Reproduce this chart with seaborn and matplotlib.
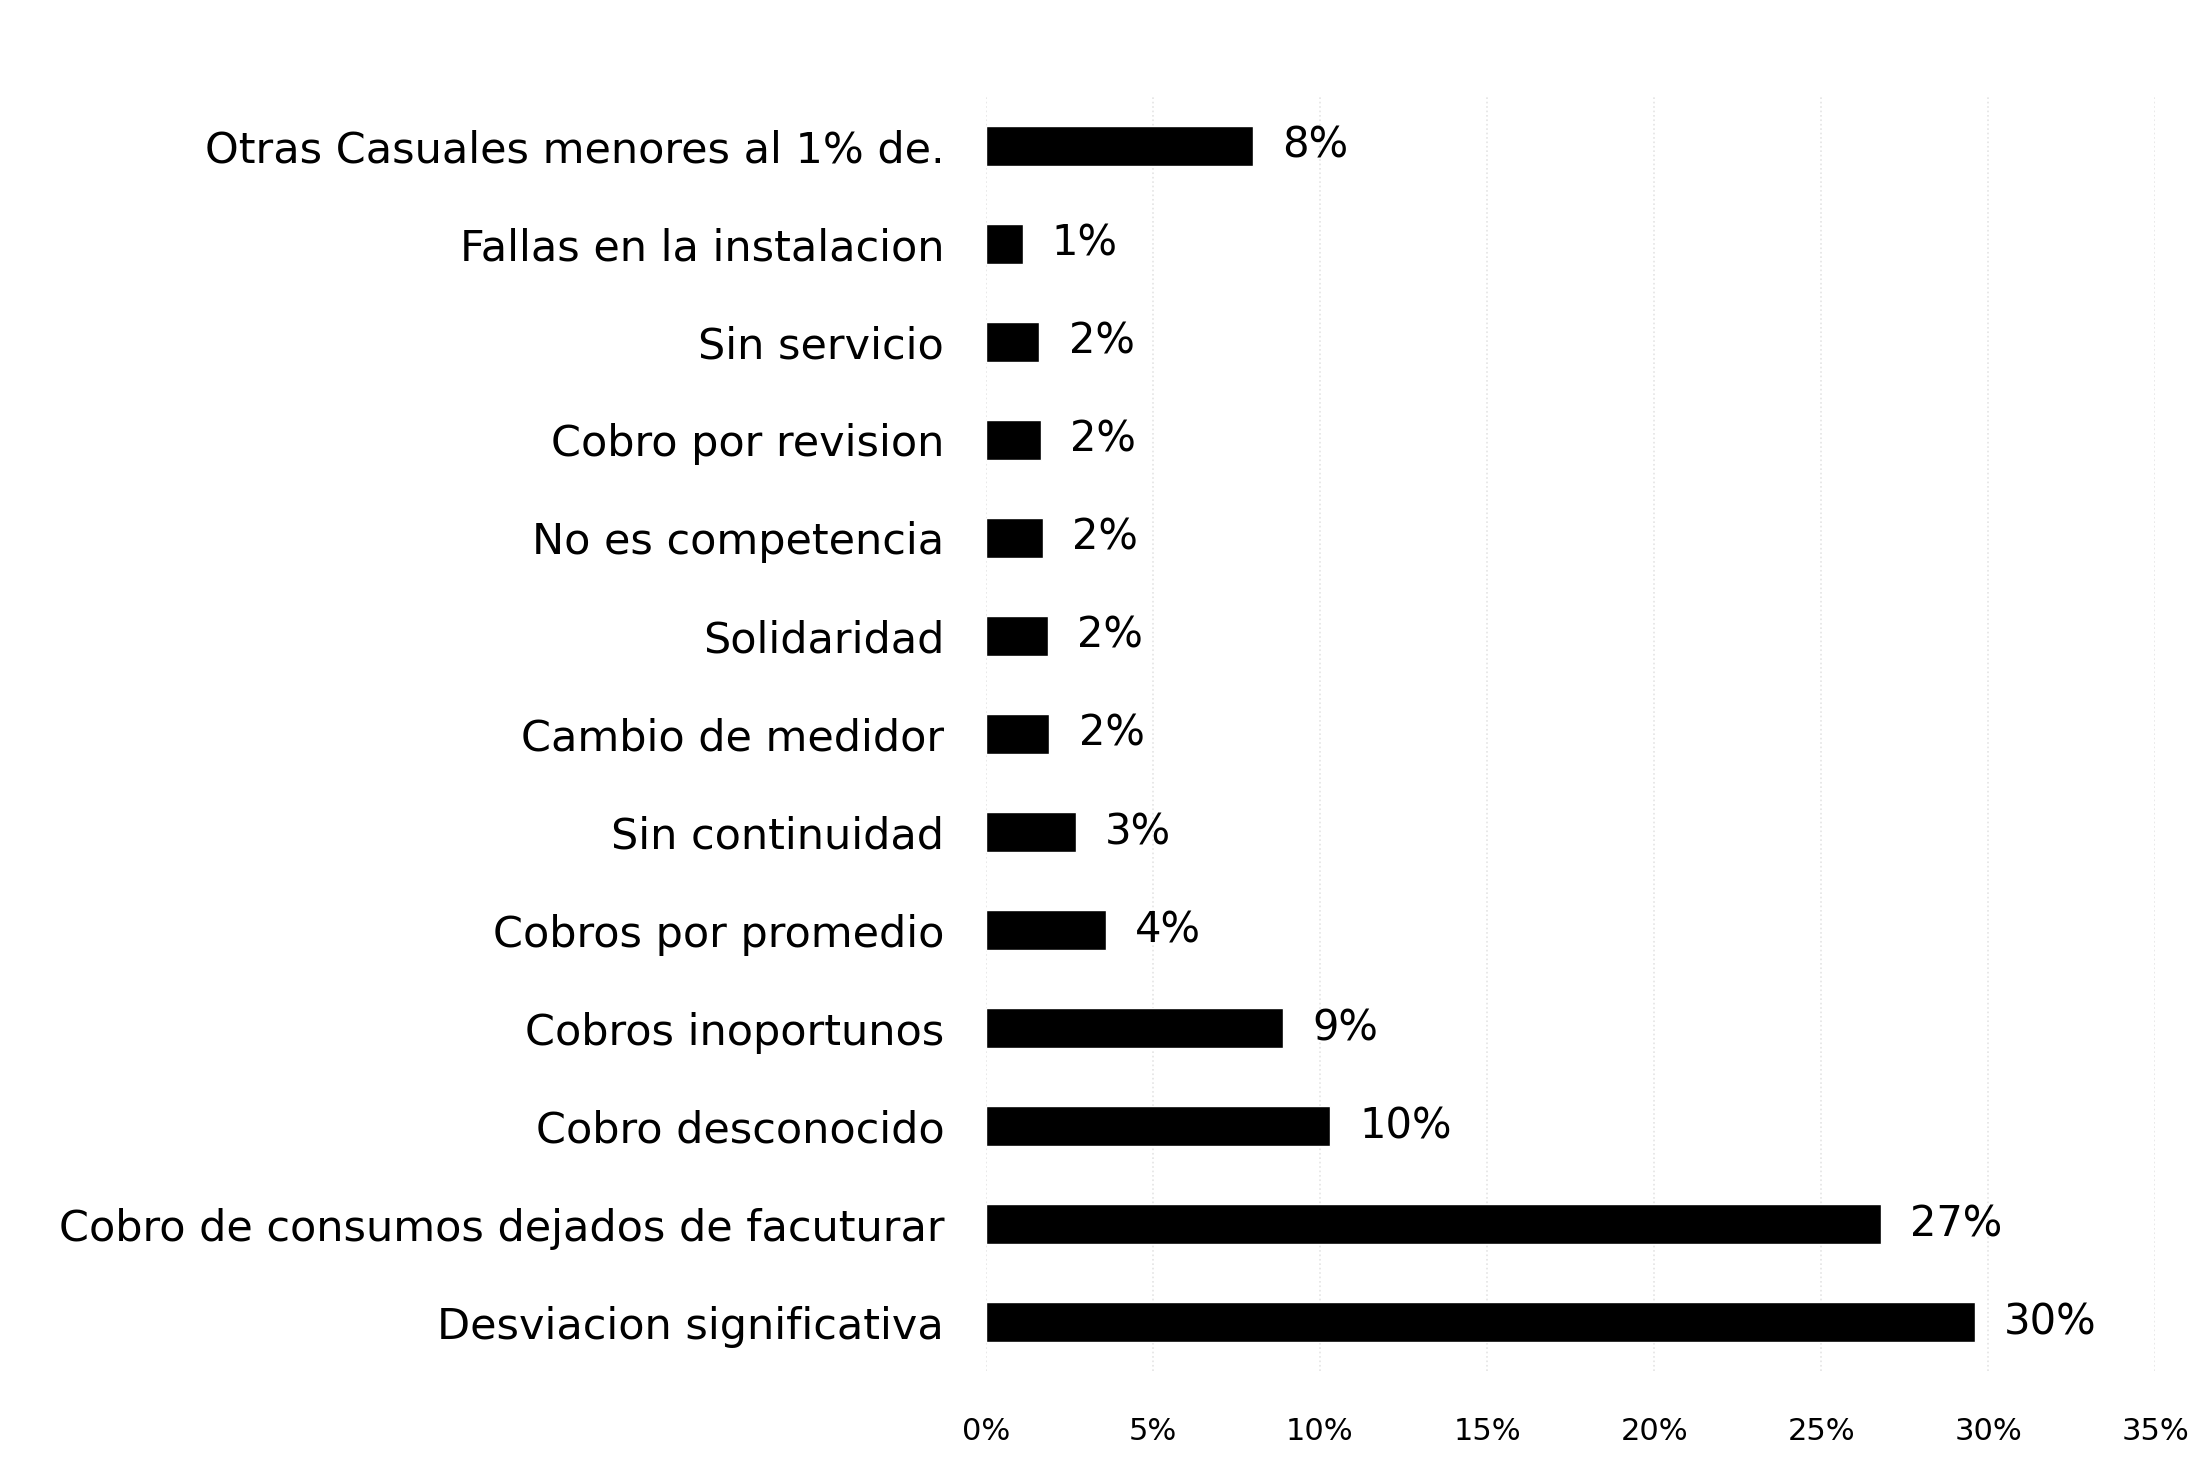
import matplotlib
matplotlib.use("Agg")
import matplotlib.pyplot as plt
import seaborn as sns
import pandas as pd
from matplotlib import font_manager

# Causales de reclamo (de arriba hacia abajo) y su participacion en %
causales = [
    "Otras Casuales menores al 1% de.",
    "Fallas en la instalacion",
    "Sin servicio",
    "Cobro por revision",
    "No es competencia",
    "Solidaridad",
    "Cambio de medidor",
    "Sin continuidad",
    "Cobros por promedio",
    "Cobros inoportunos",
    "Cobro desconocido",
    "Cobro de consumos dejados de facuturar",
    "Desviacion significativa",
]
porcentajes = [8.0, 1.1, 1.6, 1.65, 1.7, 1.85, 1.9, 2.7, 3.6, 8.9, 10.3, 26.8, 29.6]
ticks_x = [0, 5, 10, 15, 20, 25, 30, 35]

df = pd.DataFrame({"causal": causales, "pct": porcentajes})

sns.set_theme(style="white")
plt.rcParams["font.family"] = ["DejaVu Sans"]

# tick labels del eje x en fuente angosta si existe
nombres = {f.name for f in font_manager.fontManager.ttflist}
if "Liberation Sans Narrow" in nombres:
    fuente_x, tam_x = ["Liberation Sans Narrow", "DejaVu Sans"], 27
else:
    fuente_x, tam_x = ["DejaVu Sans"], 22

fig = plt.figure(figsize=(21.88, 14.68), dpi=100)
ax = fig.add_axes([0.4506, 0.066, 0.5344, 0.868])

sns.barplot(data=df, y="causal", x="pct", color="black", saturation=1,
            width=0.4, orient="h", ax=ax, zorder=3)

ax.bar_label(ax.containers[0], labels=[f"{v:.0f}%" for v in porcentajes],
             padding=21, fontsize=30, color="black")

ax.set_xlim(0, 35)
ax.set_xticks(ticks_x)
ax.set_xticklabels([f"{t}%" for t in ticks_x], family=fuente_x, fontsize=tam_x)
ax.tick_params(axis="x", length=0, pad=33, colors="black")
ax.tick_params(axis="y", length=0, pad=30, labelsize=31, colors="black")

ax.grid(axis="x", color="#e4e4e4", linestyle=":", linewidth=1.2, zorder=0)
ax.grid(axis="y", visible=False)
for s in ax.spines.values():
    s.set_visible(False)
ax.set_xlabel("")
ax.set_ylabel("")

fig.savefig("out.png", dpi=100)
